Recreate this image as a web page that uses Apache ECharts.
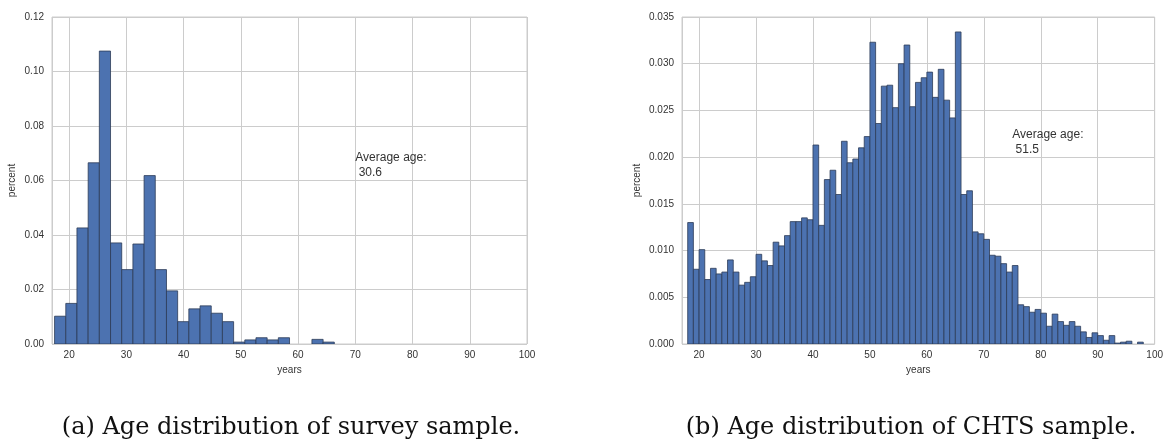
<!DOCTYPE html>
<html>
<head>
<meta charset="utf-8">
<title>Age distribution</title>
<script src="https://cdn.jsdelivr.net/npm/echarts@6/dist/echarts.min.js"></script>
<style>
  html, body { margin: 0; padding: 0; background: #fff; }
  #chart { width: 1166px; height: 443px; }
</style>
</head>
<body>
<div id="chart"></div>
<script>
// survey sample: bin left edges (years) and share per bin
const surveyBinStart = [
  17.45, 19.41, 21.36, 23.32, 25.27, 27.23, 29.18, 31.14, 33.09, 35.05, 37.0,
  38.96, 40.91, 42.87, 44.82, 46.78, 48.73, 50.69, 52.64, 54.6, 56.55, 58.51,
  60.46, 62.42, 64.37, 66.33, 68.28, 70.24, 72.19, 74.15, 76.1, 78.06
]
const surveyBinWidth = 1.955
const surveyShare = [
  0.0102, 0.0149, 0.0426, 0.0665, 0.1075, 0.0371, 0.0273, 0.0367, 0.0618, 0.0273, 0.0195,
  0.0082, 0.0129, 0.0140, 0.0113, 0.0082, 0.0007, 0.0015, 0.0023, 0.0015, 0.0023, 0,
  0, 0.0017, 0.0007, 0, 0, 0, 0, 0, 0, 0
]

// CHTS sample: one bin per year of age
const chtsAges = [
  18, 19, 20, 21, 22, 23, 24, 25, 26, 27, 28, 29, 30, 31, 32, 33, 34, 35, 36, 37,
  38, 39, 40, 41, 42, 43, 44, 45, 46, 47, 48, 49, 50, 51, 52, 53, 54, 55, 56, 57,
  58, 59, 60, 61, 62, 63, 64, 65, 66, 67, 68, 69, 70, 71, 72, 73, 74, 75, 76, 77,
  78, 79, 80, 81, 82, 83, 84, 85, 86, 87, 88, 89, 90, 91, 92, 93, 94, 95, 96, 97
]
const chtsBinWidth = 1
const chtsShare = [
  0.0130, 0.0080, 0.0101, 0.0069, 0.0081, 0.0075, 0.0077, 0.0090, 0.0077, 0.0063,
  0.0066, 0.0072, 0.0096, 0.0089, 0.0084, 0.0109, 0.0105, 0.0116, 0.0131, 0.0131,
  0.0135, 0.0133, 0.0213, 0.0127, 0.0176, 0.0186, 0.0160, 0.0217, 0.0194, 0.0198,
  0.0210, 0.0222, 0.0323, 0.0236, 0.0276, 0.0277, 0.0253, 0.0300, 0.0320, 0.0254,
  0.0280, 0.0285, 0.0291, 0.0264, 0.0294, 0.0261, 0.0242, 0.0334, 0.0160, 0.0164,
  0.0120, 0.0118, 0.0112, 0.0095, 0.0094, 0.0086, 0.0077, 0.0084, 0.0042, 0.0040,
  0.0034, 0.0037, 0.0033, 0.0019, 0.0032, 0.0024, 0.0020, 0.0024, 0.0019, 0.0013,
  0.0007, 0.0012, 0.0009, 0.0004, 0.0009, 0.0001, 0.0002, 0.0003, 0, 0.0002
]

// average age notes: [x, y] anchor in data units, then text
const surveyNote = [70, 0.06]
const chtsNote = [75, 0.02]
const surveyMean = '30.6'
const chtsMean = '51.5'

const captions = [
  '(a) Age distribution of survey sample.',
  '(b) Age distribution of CHTS sample.'
]

const labelFont = 'Liberation Sans'
const textColor = '#333'
const gridColor = '#cccccc'

const histRender = (binWidth) => (params, api) => {
  const x0 = api.value(0)
  const h = api.value(1)
  if (!h) return null
  const top = api.coord([x0, h])
  const base = api.coord([x0 + binWidth, 0])
  return {
    type: 'rect',
    shape: { x: top[0], y: top[1], width: base[0] - top[0], height: base[1] - top[1] },
    style: { fill: '#4c72b0', stroke: '#2c3b57', lineWidth: 0.8 }
  }
}

const noteRender = (text) => (params, api) => {
  const p = api.coord([api.value(0), api.value(1)])
  return {
    type: 'text',
    x: p[0],
    y: p[1],
    style: {
      text: 'Average age:\n ' + text,
      fill: textColor,
      fontSize: 12,
      fontFamily: labelFont,
      lineHeight: 15,
      align: 'left',
      verticalAlign: 'bottom'
    }
  }
}

const xAxisBase = (gridIndex) => ({
  type: 'value',
  gridIndex,
  min: 17,
  max: 100,
  splitNumber: 8,
  name: 'years',
  nameLocation: 'middle',
  nameGap: 21,
  nameTextStyle: { color: textColor, fontSize: 10, fontFamily: labelFont },
  axisLine: { show: false },
  axisTick: { show: false },
  axisLabel: {
    color: textColor, fontSize: 10, fontFamily: labelFont, margin: 6,
    showMinLabel: false, showMaxLabel: true
  },
  splitLine: { show: true, lineStyle: { color: gridColor, width: 1 } }
})

const yAxisBase = (gridIndex, max, interval, digits, nameGap) => ({
  type: 'value',
  gridIndex,
  min: 0,
  max,
  interval,
  name: 'percent',
  nameLocation: 'middle',
  nameGap,
  nameTextStyle: { color: textColor, fontSize: 10, fontFamily: labelFont },
  axisLine: { show: false },
  axisTick: { show: false },
  axisLabel: {
    color: textColor, fontSize: 10, fontFamily: labelFont, margin: 8,
    formatter: (v) => v.toFixed(digits)
  },
  splitLine: { show: true, lineStyle: { color: gridColor, width: 1 } }
})

const chart = echarts.init(document.getElementById('chart'), null, { renderer: 'canvas' })

const option = {
  backgroundColor: '#fff',
  animation: false,
  grid: [
    { left: 52, right: 639, top: 17, bottom: 99, show: true, borderColor: gridColor, borderWidth: 1 },
    { left: 682, right: 11, top: 17, bottom: 99, show: true, borderColor: gridColor, borderWidth: 1 }
  ],
  xAxis: [xAxisBase(0), xAxisBase(1)],
  yAxis: [
    yAxisBase(0, 0.12, 0.02, 2, 35),
    yAxisBase(1, 0.035, 0.005, 3, 40)
  ],
  series: [
    {
      type: 'custom',
      xAxisIndex: 0,
      yAxisIndex: 0,
      clip: true,
      renderItem: histRender(surveyBinWidth),
      encode: { x: 0, y: 1 },
      data: surveyBinStart.map((x, i) => [x, surveyShare[i]])
    },
    {
      type: 'custom',
      xAxisIndex: 1,
      yAxisIndex: 1,
      clip: true,
      renderItem: histRender(chtsBinWidth),
      encode: { x: 0, y: 1 },
      data: chtsAges.map((x, i) => [x, chtsShare[i]])
    },
    {
      type: 'custom',
      xAxisIndex: 0,
      yAxisIndex: 0,
      renderItem: noteRender(surveyMean),
      encode: { x: 0, y: 1 },
      data: [surveyNote],
      z: 5
    },
    {
      type: 'custom',
      xAxisIndex: 1,
      yAxisIndex: 1,
      renderItem: noteRender(chtsMean),
      encode: { x: 0, y: 1 },
      data: [chtsNote],
      z: 5
    }
  ],
  graphic: [
    {
      type: 'text', x: 291, y: 428,
      style: {
        text: captions[0], fill: '#111', fontSize: 24, fontFamily: 'DejaVu Serif',
        align: 'center', verticalAlign: 'middle'
      }
    },
    {
      type: 'text', x: 911, y: 428,
      style: {
        text: captions[1], fill: '#111', fontSize: 24, fontFamily: 'DejaVu Serif',
        align: 'center', verticalAlign: 'middle'
      }
    }
  ]
}

chart.setOption(option)
</script>
</body>
</html>
